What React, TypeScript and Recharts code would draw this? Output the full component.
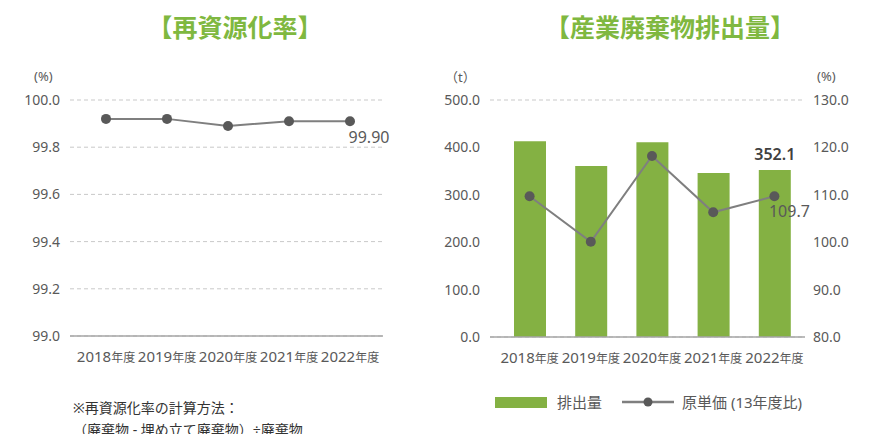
import React from "react";
import {
  ComposedChart,
  LineChart,
  Line,
  Bar,
  XAxis,
  YAxis,
  CartesianGrid,
  LabelList,
} from "recharts";

const YEARS = ["2018", "2019", "2020", "2021", "2022"];
const YEAR_SUFFIX = "年度";

// 再資源化率 (%)
const RECYCLE_RATE = [99.92, 99.92, 99.89, 99.91, 99.91];
const RECYCLE_LAST_LABEL = "99.90";
const RECYCLE_TICKS = [99.0, 99.2, 99.4, 99.6, 99.8, 100.0];

// 産業廃棄物排出量 (t) と 原単価 (13年度比, %)
const EMISSIONS = [413, 361, 411, 346, 352.1];
const UNIT_RATIO = [109.7, 100.1, 118.2, 106.3, 109.7];
const EMISSION_TICKS = [0, 100, 200, 300, 400, 500];
const RATIO_TICKS = [80, 90, 100, 110, 120, 130];

const GREEN = "#84b143";
const TITLE_GREEN = "#7fb840";
const LINE_GRAY = "#7f7f7f";
const DOT = "#595959";
const TEXT = "#595959";
const GRID = "#c9c9c9";
const AXIS = "#a6a6a6";
const FONT = "'Noto Sans', 'Noto Sans CJK JP', sans-serif";

const recycleData = YEARS.map((y, i) => ({
  year: y,
  rate: RECYCLE_RATE[i],
  lbl: i === YEARS.length - 1 ? RECYCLE_LAST_LABEL : undefined,
}));

const wasteData = YEARS.map((y, i) => ({
  year: y,
  amount: EMISSIONS[i],
  ratio: UNIT_RATIO[i],
  amountLbl: i === YEARS.length - 1 ? EMISSIONS[i].toFixed(1) : undefined,
  ratioLbl: i === YEARS.length - 1 ? UNIT_RATIO[i].toFixed(1) : undefined,
}));

function YearTick({ x, y, payload }: any) {
  return (
    <text x={x} y={y} dy={18} textAnchor="middle" fill={TEXT} fontFamily={FONT}>
      <tspan fontSize={15}>{payload.value}</tspan>
      <tspan fontSize={12}>{YEAR_SUFFIX}</tspan>
    </text>
  );
}

const tickStyle = { fontSize: 14, fill: TEXT, fontFamily: FONT };

function PointLabel(dx: number, dy: number) {
  return (p: any) => {
    if (p.value == null) return null;
    return (
      <text
        x={p.x + dx}
        y={p.y + dy}
        textAnchor="middle"
        fontSize={16}
        fill={TEXT}
        fontFamily={FONT}
      >
        {p.value}
      </text>
    );
  };
}

function Title({ text, center }: { text: string; center: number }) {
  return (
    <div
      style={{
        position: "absolute",
        left: center - 200,
        top: 9,
        width: 400,
        textAlign: "center",
        fontSize: 25,
        fontWeight: 700,
        color: TITLE_GREEN,
        fontFamily: FONT,
        lineHeight: "36px",
      }}
    >
      {text}
    </div>
  );
}

const unitStyle: React.CSSProperties = {
  position: "absolute",
  fontSize: 13,
  color: TEXT,
  fontFamily: FONT,
};

export default function App() {
  return (
    <div
      style={{
        position: "absolute",
        left: 0,
        top: 0,
        width: 877,
        height: 434,
        overflow: "hidden",
        background: "#fff",
        fontFamily: FONT,
      }}
    >
      <Title text="【再資源化率】" center={235} />
      <Title text="【産業廃棄物排出量】" center={670} />

      <div style={{ ...unitStyle, left: 34, top: 67 }}>(%)</div>
      <div style={{ ...unitStyle, left: 445, top: 67 }}>（t）</div>
      <div style={{ ...unitStyle, left: 817, top: 67 }}>(%)</div>

      <div style={{ position: "absolute", left: 0, top: 0 }}>
        <LineChart
          width={440}
          height={434}
          data={recycleData}
          margin={{ top: 100, right: 57, bottom: 68, left: 0 }}
        >
          <CartesianGrid vertical={false} stroke={GRID} strokeDasharray="4 3" />
          <XAxis
            dataKey="year"
            tick={<YearTick />}
            tickLine={false}
            axisLine={{ stroke: AXIS, strokeWidth: 1.5 }}
            padding={{ left: 36, right: 33 }}
            interval={0}
          />
          <YAxis
            domain={[99, 100]}
            ticks={RECYCLE_TICKS}
            tickFormatter={(v) => v.toFixed(1)}
            width={70}
            tickLine={false}
            axisLine={false}
            tickMargin={4}
            tick={tickStyle}
          />
          <Line
            dataKey="rate"
            stroke={LINE_GRAY}
            strokeWidth={2}
            dot={{ r: 5, fill: DOT, stroke: DOT, strokeWidth: 0 }}
            isAnimationActive={false}
          >
            <LabelList dataKey="lbl" content={PointLabel(19, 22)} />
          </Line>
        </LineChart>
      </div>

      <div style={{ position: "absolute", left: 440, top: 0 }}>
        <ComposedChart
          width={437}
          height={434}
          data={wasteData}
          margin={{ top: 100, right: 0, bottom: 67, left: 0 }}
        >
          <CartesianGrid vertical={false} stroke={GRID} strokeDasharray="4 3" />
          <XAxis
            dataKey="year"
            tick={<YearTick />}
            tickLine={false}
            axisLine={{ stroke: AXIS, strokeWidth: 1.5 }}
            padding={{ left: 9, right: 0 }}
            interval={0}
          />
          <YAxis
            yAxisId="left"
            domain={[0, 500]}
            ticks={EMISSION_TICKS}
            tickFormatter={(v) => v.toFixed(1)}
            width={50}
            tickLine={false}
            axisLine={false}
            tickMargin={4}
            tick={tickStyle}
          />
          <YAxis
            yAxisId="right"
            orientation="right"
            domain={[80, 130]}
            ticks={RATIO_TICKS}
            tickFormatter={(v) => v.toFixed(1)}
            width={72}
            tickLine={false}
            axisLine={false}
            tickMargin={2}
            tick={{ ...tickStyle, textAnchor: "start" }}
          />
          <Bar
            yAxisId="left"
            dataKey="amount"
            fill={GREEN}
            barSize={32}
            isAnimationActive={false}
          >
            <LabelList
              dataKey="amountLbl"
              position="top"
              offset={10}
              style={{ fontSize: 16, fontWeight: 600, fill: "#404040", fontFamily: FONT }}
            />
          </Bar>
          <Line
            yAxisId="right"
            dataKey="ratio"
            stroke={LINE_GRAY}
            strokeWidth={2}
            dot={{ r: 5, fill: DOT, stroke: DOT, strokeWidth: 0 }}
            isAnimationActive={false}
          >
            <LabelList dataKey="ratioLbl" content={PointLabel(15, 21)} />
          </Line>
        </ComposedChart>
      </div>

      {/* legend */}
      <div
        style={{
          position: "absolute",
          left: 495,
          top: 392,
          display: "flex",
          alignItems: "center",
          fontSize: 15,
          color: TEXT,
          fontFamily: FONT,
          lineHeight: "20px",
        }}
      >
        <span style={{ display: "inline-block", width: 52, height: 11, background: GREEN }} />
        <span style={{ marginLeft: 10 }}>排出量</span>
        <svg width={52} height={12} style={{ marginLeft: 20 }}>
          <line x1={0} y1={6} x2={52} y2={6} stroke={LINE_GRAY} strokeWidth={2.5} />
          <circle cx={26} cy={6} r={4.5} fill={DOT} />
        </svg>
        <span style={{ marginLeft: 8 }}>原単価 (13年度比)</span>
      </div>

      {/* footnote */}
      <div
        style={{
          position: "absolute",
          left: 73,
          top: 397,
          fontSize: 14,
          color: "#333",
          fontFamily: FONT,
          lineHeight: "22px",
        }}
      >
        <div>※再資源化率の計算方法：</div>
        <div>（廃棄物 - 埋め立て廃棄物）÷廃棄物</div>
      </div>
    </div>
  );
}
